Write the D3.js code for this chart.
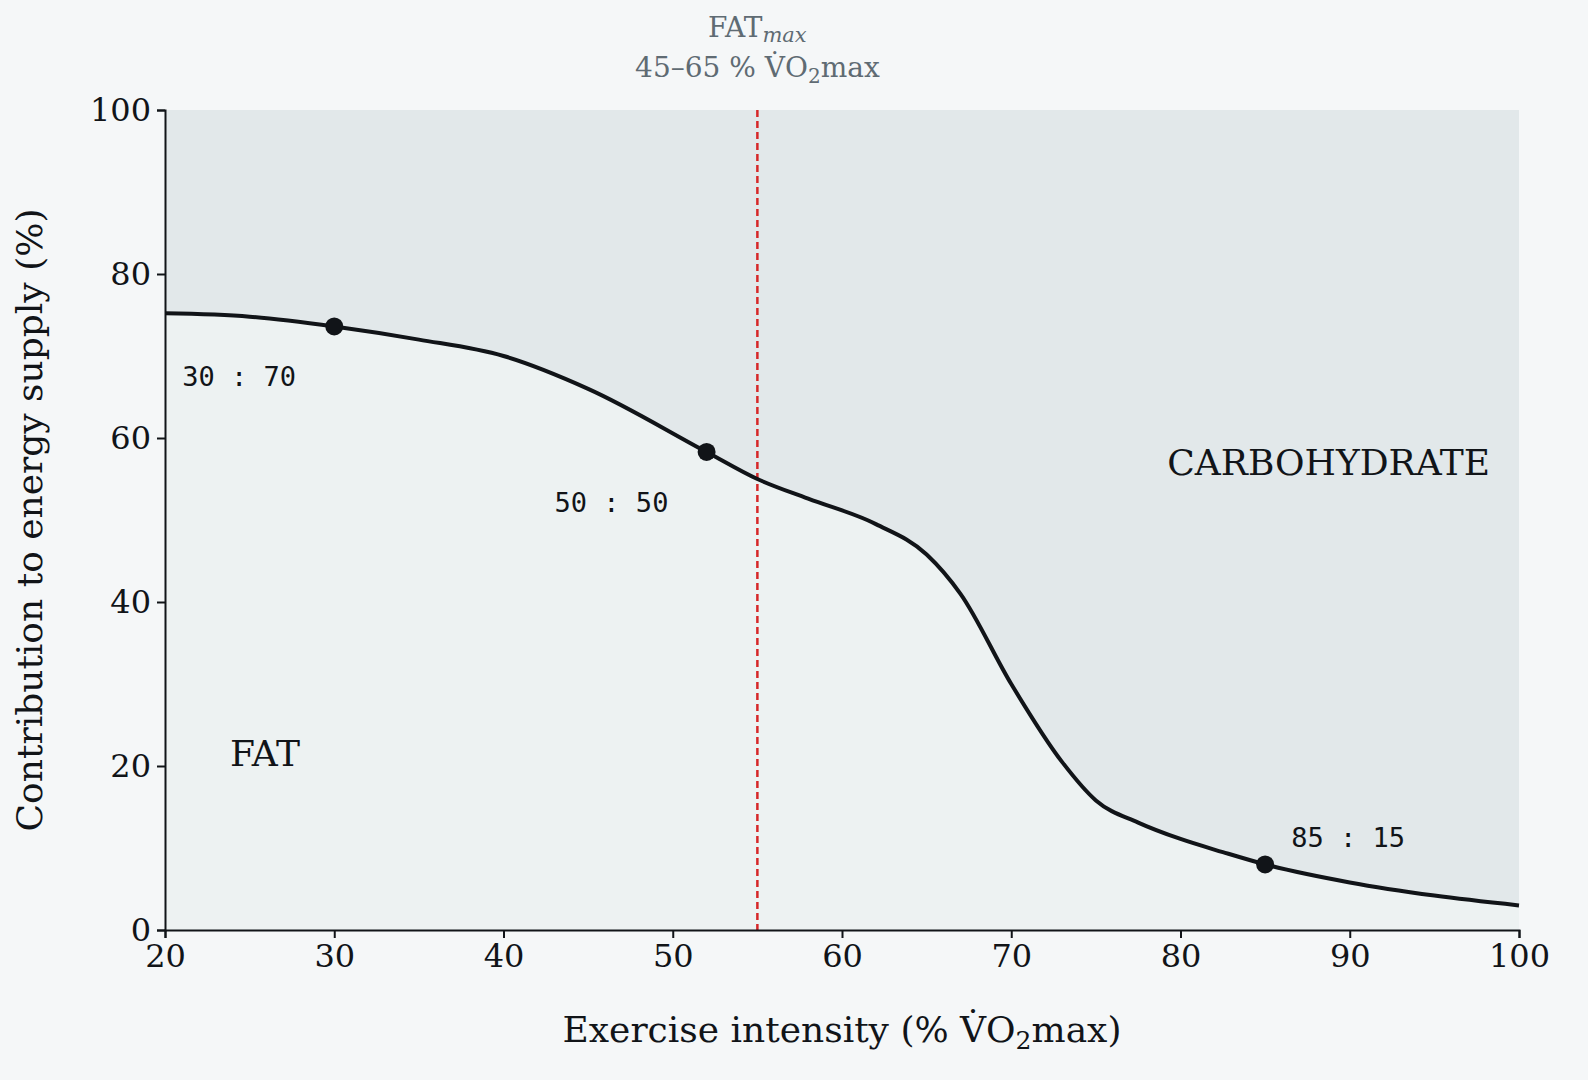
<!DOCTYPE html>
<html><head><meta charset="utf-8">
<script src="https://cdn.jsdelivr.net/npm/d3@7"></script>
<style>body{margin:0;background:#f5f7f8}svg{display:block}</style>
</head><body><svg id="c" width="1588" height="1080"></svg>
<script>
// curve: % fat contribution vs exercise intensity
var intensity = [20, 25, 30, 35, 40, 45, 52, 55, 58, 62, 65, 67, 70, 73, 75, 77.5, 80, 82.5, 85, 90, 95, 100];
var fatShare  = [75.2, 74.8, 73.6, 72, 70, 66, 58.3, 55, 52.6, 49.5, 45.8, 41, 30, 20.5, 15.8, 13.1, 11.1, 9.5, 8, 5.8, 4.2, 3];
var markers = [
  {x: 30, y: 73.6, label: "30 : 70", dx: -152, dy: 60},
  {x: 52, y: 58.3, label: "50 : 50", dx: -152, dy: 60},
  {x: 85, y: 8, label: "85 : 15", dx: 26, dy: -17}
];
var xTicks = [20, 30, 40, 50, 60, 70, 80, 90, 100];
var yTicks = [0, 20, 40, 60, 80, 100];
var fatMax = 55;

var svg = d3.select('#c');
var x = d3.scaleLinear().domain([20, 100]).range([165, 1519]);
var y = d3.scaleLinear().domain([0, 100]).range([930, 110]);
var serif = "'DejaVu Serif', serif";
var pts = intensity.map(function(d, i) { return [d, fatShare[i]]; });

svg.append('rect').attr('x', x(20)).attr('y', y(100)).attr('width', x(100) - x(20)).attr('height', y(0) - y(100)).attr('fill', '#e2e8ea');
svg.append('path').datum(pts).attr('fill', '#edf2f2')
  .attr('d', d3.area().x(function(d){return x(d[0]);}).y0(y(0)).y1(function(d){return y(d[1]);}).curve(d3.curveMonotoneX));

svg.append('line').attr('x1', x(fatMax)).attr('x2', x(fatMax)).attr('y1', y(100)).attr('y2', y(0))
  .attr('stroke', '#d62728').attr('stroke-width', 2.5).attr('stroke-dasharray', '7,4');

svg.append('path').datum(pts).attr('fill', 'none').attr('stroke', '#111418').attr('stroke-width', 4)
  .attr('d', d3.line().x(function(d){return x(d[0]);}).y(function(d){return y(d[1]);}).curve(d3.curveMonotoneX));

markers.forEach(function(m) {
  svg.append('circle').attr('cx', x(m.x)).attr('cy', y(m.y)).attr('r', 9).attr('fill', '#111418');
  svg.append('text').attr('x', x(m.x) + m.dx).attr('y', y(m.y) + m.dy).attr('font-family', "'DejaVu Sans Mono', monospace")
    .attr('font-size', 27).attr('fill', '#111418').text(m.label);
});

svg.append('text').attr('x', 230).attr('y', y(21.5) + 12).attr('font-family', serif).attr('font-size', 36).attr('fill', '#111418').text('FAT');
svg.append('text').attr('x', 1490).attr('y', y(57) + 12).attr('text-anchor', 'end').attr('font-family', serif).attr('font-size', 36).attr('fill', '#111418').text('CARBOHYDRATE');

var xa = svg.append('g').attr('transform', 'translate(0,' + y(0) + ')').call(d3.axisBottom(x).tickValues(xTicks).tickSize(8).tickPadding(6));
var ya = svg.append('g').attr('transform', 'translate(' + x(20) + ',0)').call(d3.axisLeft(y).tickValues(yTicks).tickSize(8).tickPadding(6));
[xa, ya].forEach(function(a) {
  a.selectAll('text').attr('font-family', serif).attr('font-size', 32).attr('fill', '#111418');
  a.selectAll('line,path').attr('stroke', '#111418').attr('stroke-width', 2);
});

var xl = svg.append('text').attr('x', 842).attr('y', 1042).attr('text-anchor', 'middle').attr('font-family', serif).attr('font-size', 36).attr('fill', '#111418');
xl.append('tspan').text('Exercise intensity (% V\u0307O');
xl.append('tspan').attr('font-size', 25).attr('dy', 7).text('2');
xl.append('tspan').attr('dy', -7).text('max)');

svg.append('text').attr('transform', 'translate(42,520) rotate(-90)').attr('text-anchor', 'middle').attr('font-family', serif)
  .attr('font-size', 36).attr('fill', '#111418').text('Contribution to energy supply (%)');

var t1 = svg.append('text').attr('x', x(fatMax)).attr('y', 37).attr('text-anchor', 'middle').attr('font-family', serif).attr('font-size', 28).attr('fill', '#5f6b73');
t1.append('tspan').text('FAT');
t1.append('tspan').attr('font-style', 'italic').attr('font-size', 21).attr('dy', 5).text('max');
var t2 = svg.append('text').attr('x', x(fatMax)).attr('y', 77).attr('text-anchor', 'middle').attr('font-family', serif).attr('font-size', 28).attr('fill', '#5f6b73');
t2.append('tspan').text('45\u201365 % V\u0307O');
t2.append('tspan').attr('font-size', 20).attr('dy', 6).text('2');
t2.append('tspan').attr('dy', -6).text('max');
</script></body></html>
